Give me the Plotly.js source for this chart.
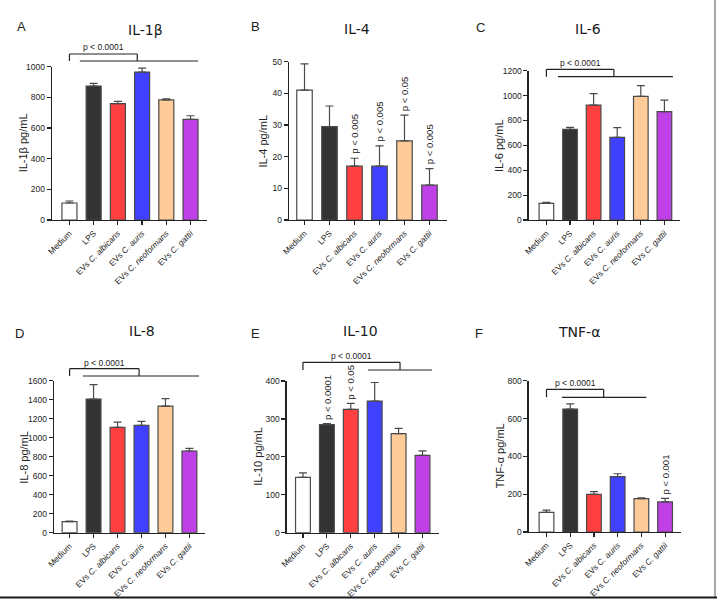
<!DOCTYPE html>
<html>
<head>
<meta charset="utf-8">
<script src="https://cdn.plot.ly/plotly-3.0.1.min.js"></script>
<style>
  html, body { margin: 0; padding: 0; background: #ffffff; }
  #chart { width: 717px; height: 600px; }
</style>
</head>
<body>
<div id="chart"></div>
<script>
// Treatment groups (x axis of every panel)
const categories = [
  'Medium',
  'LPS',
  'EVs <i>C. albicans</i>',
  'EVs <i>C. auris</i>',
  'EVs <i>C. neoformans</i>',
  'EVs <i>C. gattii</i>'
];

// Cytokine concentrations, mean and error (pg/mL)
const il1bMean = [111, 874, 759, 965, 783, 657];
const il1bErr  = [13, 17, 15, 26, 8, 23];
const il4Mean  = [41, 29.5, 17, 17, 25, 11];
const il4Err   = [8.3, 6.5, 2.5, 6.4, 8.1, 5.2];
const il6Mean  = [134, 729, 924, 664, 994, 871];
const il6Err   = [8, 16, 91, 78, 86, 93];
const il8Mean  = [116, 1407, 1109, 1130, 1333, 860];
const il8Err   = [7, 151, 56, 42, 78, 28];
const il10Mean = [146, 285, 325, 347, 261, 204];
const il10Err  = [12, 2.5, 16, 49, 14, 12];
const tnfMean  = [104, 650, 199, 293, 176, 159];
const tnfErr   = [12, 27, 14, 15, 5, 19];

// Per-bar significance labels (empty = none)
const il4Sig  = ['', '', 'p < 0.005', 'p < 0.005', 'p < 0.05', 'p < 0.005'];
const il10Sig = ['', 'p < 0.0001', 'p < 0.05', '', '', ''];
const tnfSig  = ['', '', '', '', '', 'p < 0.001'];

const panelLetters = ['A', 'B', 'C', 'D', 'E', 'F'];
const panelTitles  = ['IL-1β', 'IL-4', 'IL-6', 'IL-8', 'IL-10', 'TNF-α'];
const yTitles      = ['IL-1β pg/mL', 'IL-4 pg/mL', 'IL-6 pg/mL', 'IL-8 pg/mL', 'IL-10 pg/mL', 'TNF-α pg/mL'];

const barColors = ['#ffffff', '#333333', '#ff4040', '#4040ff', '#ffcc99', '#bf40e6'];

const W = 717, H = 600;
const INK = '#222222';
const EDGE = '#4a4a4a';
const SANS = '"Liberation Sans", Arial, sans-serif';
const px = v => v / W;
const py = v => 1 - v / H;

// Panel geometry in page pixels: axis extents, title/letter spots, bracket layout
const panels = [
  { mean: il1bMean, err: il1bErr, sig: null, ymax: 1000, dtick: 200,
    x0: 52, x1: 207, yb: 220, yt: 66.7, xr: [-0.72, 5.68], ytx: 23,
    letter: [15, 17], title: [125.7, 20],
    bracket: { a: 0, b: 2.8, top: 54, low: 61, l0: 0.43, l1: 5.31, text: 47.5 } },
  { mean: il4Mean, err: il4Err, sig: il4Sig, ymax: 50, dtick: 10,
    x0: 289, x1: 447, yb: 220, yt: 61.7, xr: [-0.62, 5.7], ytx: 262.7,
    letter: [255, 17], title: [357, 19.5], bracket: null },
  { mean: il6Mean, err: il6Err, sig: null, ymax: 1200, dtick: 200,
    x0: 528.7, x1: 680, yb: 220, yt: 70.7, xr: [-0.75, 5.66], ytx: 499.7,
    letter: [487, 18], title: [603, 19.5],
    bracket: { a: 0, b: 2.86, top: 69.3, low: 76.7, l0: 0.49, l1: 5.36, text: 62.7 } },
  { mean: il8Mean, err: il8Err, sig: null, ymax: 1600, dtick: 200,
    x0: 54, x1: 205, yb: 532.7, yt: 380.7, xr: [-0.65, 5.65], ytx: 24,
    letter: [13, 333], title: [127, 330.7],
    bracket: { a: 0, b: 2.9, top: 368.7, low: 376, l0: 0.56, l1: 5.4, text: 362.7 } },
  { mean: il10Mean, err: il10Err, sig: il10Sig, ymax: 400, dtick: 100,
    x0: 286.7, x1: 439, yb: 532.7, yt: 381, xr: [-0.68, 5.69], ytx: 258,
    letter: [255, 333], title: [360.7, 330.7],
    bracket: { a: 0, b: 4.06, top: 362.3, low: 370, l0: 2.72, l1: 5.4, text: 355.7 } },
  { mean: tnfMean, err: tnfErr, sig: tnfSig, ymax: 800, dtick: 200,
    x0: 528.7, x1: 681, yb: 532, yt: 380.7, xr: [-0.75, 5.67], ytx: 500,
    letter: [485, 333], title: [602, 331.7],
    bracket: { a: 0, b: 2.41, top: 389.3, low: 397.3, l0: 0.65, l1: 4.21, text: 383.3 } }
];

const traces = [];
const annotations = [];
const shapes = [];
const layout = {
  width: W, height: H,
  margin: { l: 0, r: 0, t: 0, b: 0 },
  paper_bgcolor: '#ffffff',
  plot_bgcolor: '#ffffff',
  showlegend: false,
  font: { family: SANS, color: INK },
  annotations: annotations,
  shapes: shapes
};

panels.forEach((p, i) => {
  const n = i + 1;
  const xa = n === 1 ? 'x' : 'x' + n;
  const ya = n === 1 ? 'y' : 'y' + n;

  traces.push({
    type: 'bar',
    x: categories,
    y: p.mean,
    xaxis: xa, yaxis: ya,
    width: 0.62,
    marker: { color: barColors, line: { color: EDGE, width: 1.2 } },
    error_y: {
      type: 'data', symmetric: false,
      array: p.err, arrayminus: p.err.map(() => 0),
      color: EDGE, thickness: 1.2, width: 4
    },
    hoverinfo: 'skip'
  });

  layout['xaxis' + (n === 1 ? '' : n)] = {
    domain: [px(p.x0), px(p.x1)],
    anchor: ya,
    type: 'category',
    range: p.xr,
    showline: true, linecolor: INK, linewidth: 1.3,
    ticks: 'outside', ticklen: 4, tickwidth: 1.2, tickcolor: INK,
    tickangle: -45,
    tickfont: { family: SANS, size: 8.3, color: INK },
    showgrid: false, zeroline: false, fixedrange: true
  };
  layout['yaxis' + (n === 1 ? '' : n)] = {
    domain: [py(p.yb), py(p.yt)],
    anchor: xa,
    range: [0, p.ymax],
    dtick: p.dtick,
    showline: true, linecolor: INK, linewidth: 1.3,
    ticks: 'outside', ticklen: 4, tickwidth: 1.2, tickcolor: INK,
    tickfont: { family: SANS, size: 8.5, color: INK },
    showgrid: false, zeroline: false, fixedrange: true
  };

  // y-axis title, set beside the tick labels
  annotations.push({
    xref: 'paper', yref: 'paper', x: px(p.ytx), y: py((p.yb + p.yt) / 2),
    text: yTitles[i], textangle: -90, showarrow: false,
    xanchor: 'center', yanchor: 'middle',
    font: { family: SANS, size: 11, color: INK }
  });

  // panel letter and cytokine title
  annotations.push({
    xref: 'paper', yref: 'paper', x: px(p.letter[0]), y: py(p.letter[1]),
    text: panelLetters[i], showarrow: false,
    font: { family: SANS, size: 13, color: INK }
  });
  annotations.push({
    xref: 'paper', yref: 'paper', x: px(p.title[0]), y: py(p.title[1]),
    text: panelTitles[i], showarrow: false,
    font: { family: '"DejaVu Sans", Verdana, sans-serif', size: 14, color: '#1a1a1a' }
  });

  // significance labels written vertically above the error caps
  if (p.sig) {
    p.sig.forEach((s, k) => {
      if (!s) return;
      annotations.push({
        xref: xa, yref: ya, x: k, y: p.mean[k] + p.err[k],
        text: s, textangle: -90, showarrow: false,
        xanchor: 'center', yanchor: 'bottom', yshift: 2,
        font: { family: SANS, size: 9.5, color: INK }
      });
    });
  }

  // comparison bracket: Medium vs stimulated groups
  if (p.bracket) {
    const b = p.bracket;
    const line = { color: INK, width: 1.2 };
    const seg = (xa0, xa1, y0, y1) => shapes.push({
      type: 'line', xref: xa, yref: 'paper',
      x0: xa0, x1: xa1, y0: py(y0), y1: py(y1), line: line
    });
    seg(b.a, b.a, b.top, b.low);
    seg(b.a, b.b, b.top, b.top);
    seg(b.b, b.b, b.top, b.low);
    seg(b.l0, b.l1, b.low, b.low);
    annotations.push({
      xref: xa, yref: 'paper', x: (b.a + b.b) / 2, y: py(b.text),
      text: 'p < 0.0001', showarrow: false, yanchor: 'middle',
      font: { family: SANS, size: 8.5, color: INK }
    });
  }
});

// figure frame edges
shapes.push({ type: 'line', xref: 'paper', yref: 'paper',
  x0: px(715), x1: px(715), y0: py(0), y1: py(597), line: { color: '#8a8a8a', width: 1.5 } });
shapes.push({ type: 'line', xref: 'paper', yref: 'paper',
  x0: 0, x1: 1, y0: py(597.5), y1: py(597.5), line: { color: '#1a1a1a', width: 2 } });

Plotly.newPlot('chart', traces, layout, { staticPlot: true, displayModeBar: false });
</script>
</body>
</html>
